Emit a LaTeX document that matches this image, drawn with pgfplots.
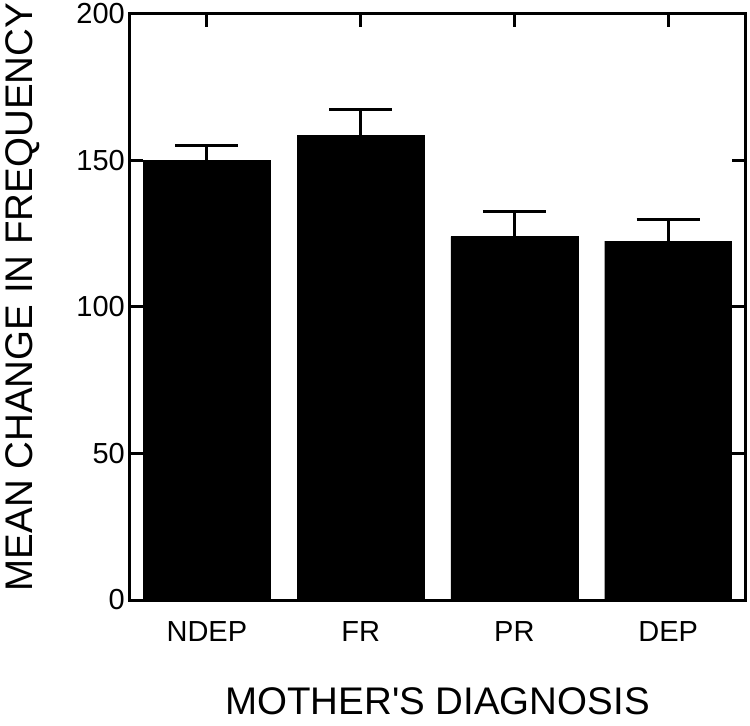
\documentclass[border=0pt]{standalone}
\usepackage{pgfplots}
\pgfplotsset{compat=1.18}
\usepackage{fontspec}
\setmainfont{Liberation Sans}

\begin{document}
\begin{tikzpicture}
\begin{axis}[
  name=ax,
  ybar,
  scale only axis, width=615bp, height=586bp,
  xmin=-0.5, xmax=3.5, ymin=0, ymax=200,
  xtick={0,1,2,3}, xticklabels={NDEP,FR,PR,DEP},
  ytick={0,50,100,150,200},
  tick align=inside, major tick length=13bp,
  axis line style={line width=3bp},
  every tick/.style={black, line width=3bp},
  /pgf/number format/assume math mode=true,
  tick label style={font=\fontsize{29bp}{35bp}\selectfont},
  yticklabel style={anchor=east, inner sep=0pt, xshift=-5bp},
  xticklabel style={anchor=base, inner sep=0pt, yshift=-41bp},
  xlabel={MOTHER\textquotesingle S DIAGNOSIS},
  ylabel={MEAN CHANGE IN FREQUENCY},
  label style={font=\fontsize{38.5bp}{44bp}\selectfont, inner sep=0pt},
  xlabel style={at={(axis description cs:0.5,-0.1962)}, anchor=base},
  ylabel style={at={(axis description cs:-0.1593,0.517)}, anchor=base, rotate=0},
  bar width=0.825,
]
\addplot[fill=black, draw=black,
  error bars/.cd, y dir=plus, y explicit,
  error bar style={line width=3bp, black},
  error mark options={rotate=90, mark size=31.5bp, line width=3bp, black}]
  coordinates {
    (0,150)   +- (0,5)
    (1,158.5) +- (0,9)
    (2,124)   +- (0,8.5)
    (3,122.5) +- (0,7.5)
  };
\end{axis}
\path (ax.south west) ++(-130bp,-126bp) rectangle ([shift={(5bp,14bp)}]ax.north east);
\end{tikzpicture}
\end{document}
